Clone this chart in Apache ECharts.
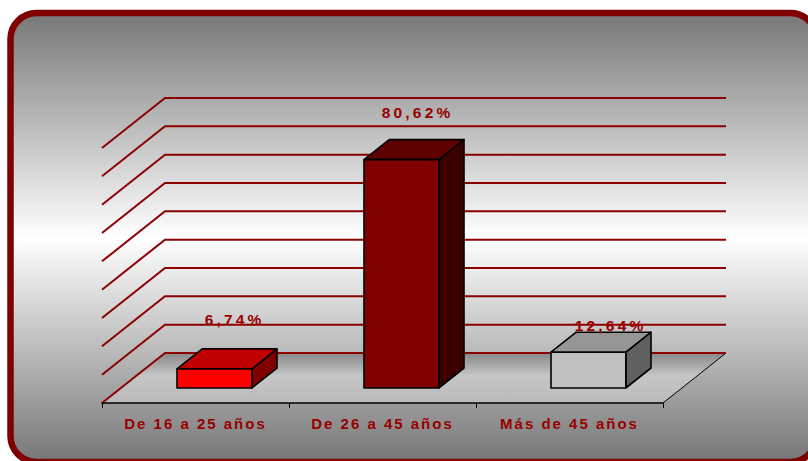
<!DOCTYPE html>
<html>
<head>
<meta charset="utf-8">
<script src="https://cdn.jsdelivr.net/npm/echarts@6/dist/echarts.min.js"></script>
<style>
  html, body { margin: 0; padding: 0; background: #ffffff; }
  #chart { width: 808px; height: 461px; }
  #chart text { letter-spacing: 2px; }
  /* value labels above the boxes use a slightly larger size and wider tracking */
  #chart text[style*="15.5px"] { letter-spacing: 3.2px; }
</style>
</head>
<body>
<div id="chart"></div>
<script>
// Age groups and their share of the total (percent)
const categories = ['De 16 a 25 años', 'De 26 a 45 años', 'Más de 45 años'];
const shares = [6.74, 80.62, 12.64];
// Value axis ticks (percent) drawn on the back and left walls
const gridTicks = [0, 10, 20, 30, 40, 50, 60, 70, 80, 90];

// Face colours of each box: front, top, side
const faceColors = [
  ['#ff0000', '#c00000', '#800000'],
  ['#800000', '#5c0000', '#3c0000'],
  ['#c0c0c0', '#969696', '#606060']
];
// Small shifts of each value label from the top of its box
const labelNudge = [[-5, -29], [-9, -27], [-3, -7]];

const TEXT_RED = '#990000';
const GRID_RED = '#8c0000';
const FONT = '"Liberation Sans", Arial, sans-serif';
// Perspective depth: offset from the back wall to the front edge of the floor
const DEPTH = [-63, 50];
const BAR_BACK = 0.3;   // fraction of depth where the box back face sits
const BAR_FRONT = 0.7;  // fraction of depth where the box front face sits
const BAR_WIDTH = 0.4;  // box width as a fraction of the category band

const fmt = v => v.toFixed(2).replace('.', ',') + '%';

const chart = echarts.init(document.getElementById('chart'), null, { renderer: 'svg' });

function renderFloor(params, api) {
  const cs = params.coordSys;
  const x0 = cs.x, x1 = cs.x + cs.width, yb = cs.y + cs.height;
  const fx0 = x0 + DEPTH[0], fx1 = x1 + DEPTH[0], yf = yb + DEPTH[1];
  return {
    type: 'group',
    children: [
      {
        type: 'polygon',
        shape: { points: [[x0, yb], [x1, yb], [fx1, yf], [fx0, yf]] },
        style: {
          fill: new echarts.graphic.LinearGradient(0, 0, 0, 1, [
            { offset: 0, color: '#878787' },
            { offset: 0.45, color: '#c6c6c6' },
            { offset: 1, color: '#bababa' }
          ])
        }
      },
      {
        type: 'line',
        shape: { x1: x1, y1: yb, x2: fx1, y2: yf },
        style: { stroke: '#000000', lineWidth: 1 }
      }
    ]
  };
}

function renderWallLine(params, api) {
  const cs = params.coordSys;
  const y = api.coord([0, api.value(0)])[1];
  const x0 = cs.x, x1 = cs.x + cs.width;
  return {
    type: 'polyline',
    shape: { points: [[x0 + DEPTH[0], y + DEPTH[1]], [x0, y], [x1, y]] },
    style: { stroke: GRID_RED, lineWidth: 2, fill: null }
  };
}

function renderBox(params, api) {
  const idx = api.value(0);
  const val = api.value(1);
  const base = api.coord([idx, 0]);
  const top = api.coord([idx, val]);
  const h = base[1] - top[1];
  const w = api.size([1, 0])[0] * BAR_WIDTH;
  const fx = base[0] + DEPTH[0] * BAR_FRONT - w / 2;
  const fy = base[1] + DEPTH[1] * BAR_FRONT;
  const bx = base[0] + DEPTH[0] * BAR_BACK - w / 2;
  const by = base[1] + DEPTH[1] * BAR_BACK;
  const c = faceColors[params.dataIndex];
  const edge = { stroke: '#000000', lineWidth: 1.6, lineJoin: 'round' };
  const nudge = labelNudge[params.dataIndex];
  return {
    type: 'group',
    children: [
      {
        type: 'polygon',
        shape: { points: [[fx + w, fy - h], [bx + w, by - h], [bx + w, by], [fx + w, fy]] },
        style: Object.assign({ fill: c[2] }, edge)
      },
      {
        type: 'polygon',
        shape: { points: [[fx, fy - h], [fx + w, fy - h], [bx + w, by - h], [bx, by - h]] },
        style: Object.assign({ fill: c[1] }, edge)
      },
      {
        type: 'rect',
        shape: { x: fx, y: fy - h, width: w, height: h },
        style: Object.assign({ fill: c[0] }, edge)
      },
      {
        type: 'text',
        x: bx + w / 2 + nudge[0],
        y: by - h + nudge[1],
        style: {
          text: fmt(val),
          fill: TEXT_RED,
          fontSize: 15.5,
          fontWeight: 'bold',
          fontFamily: FONT,
          align: 'center',
          verticalAlign: 'middle'
        }
      }
    ]
  };
}

const option = {
  animation: false,
  backgroundColor: '#ffffff',
  graphic: [
    {
      type: 'rect',
      z: -10,
      silent: true,
      shape: { x: 10.5, y: 13, width: 806, height: 449, r: 26 },
      style: {
        fill: new echarts.graphic.LinearGradient(0, 0, 0, 1, [
          { offset: 0, color: '#777777' },
          { offset: 0.5, color: '#ffffff' },
          { offset: 1, color: '#777777' }
        ]),
        stroke: '#800000',
        lineWidth: 6.5
      }
    }
  ],
  grid: [
    { left: 165, right: 82, top: 98, bottom: 108 },
    { left: 102, right: 145, top: 300, bottom: 58 }
  ],
  xAxis: [
    { type: 'category', gridIndex: 0, data: categories, show: false, boundaryGap: true },
    {
      type: 'category', gridIndex: 1, data: categories, boundaryGap: true, z: 5,
      axisLine: { lineStyle: { color: '#000000', width: 1.5 } },
      axisTick: { show: true, length: 5, lineStyle: { color: '#000000', width: 1 } },
      axisLabel: {
        color: TEXT_RED, fontSize: 15, fontWeight: 'bold', fontFamily: FONT, margin: 13
      }
    }
  ],
  yAxis: [
    { type: 'value', gridIndex: 0, min: 0, max: 90, interval: 10, show: false, splitLine: { show: false } },
    { type: 'value', gridIndex: 1, min: 0, max: 1, show: false, splitLine: { show: false } }
  ],
  series: [
    {
      type: 'custom', xAxisIndex: 0, yAxisIndex: 0, z: 1, silent: true,
      renderItem: renderFloor, data: [[0, 0]]
    },
    {
      type: 'custom', xAxisIndex: 0, yAxisIndex: 0, z: 2, silent: true,
      renderItem: renderWallLine,
      encode: { y: 0 },
      data: gridTicks.map(t => [t])
    },
    {
      type: 'custom', xAxisIndex: 0, yAxisIndex: 0, z: 3,
      renderItem: renderBox,
      data: shares.map((v, i) => [i, v])
    }
  ]
};

chart.setOption(option);
</script>
</body>
</html>
